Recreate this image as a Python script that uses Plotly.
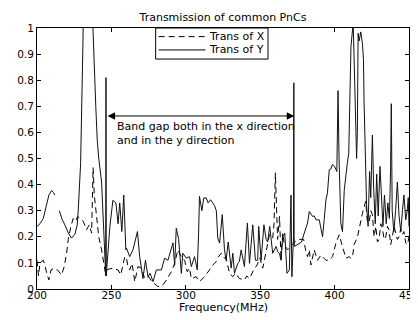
import plotly.graph_objects as go

# ---- data ----
freq_x = [200, 201, 202, 204.2, 205.4, 206.5, 208, 209.4, 211.6, 213.8, 216.5, 218.3, 219.9, 221, 222.8,
          224.3, 226, 227.3, 229, 231, 233.3, 235.1, 236.7, 237.7, 238.5, 240, 241.5, 243.4, 244.5, 246,
          247.5, 249, 251.1, 253, 254.5, 256.3, 257.8, 259, 260.1, 261, 262.3, 263.9, 265.7, 267.9, 270.2,
          272.4, 275, 277, 281.3, 283, 285.3, 288, 290.3, 292.5, 294.7, 297, 299.2, 301, 302.5, 303.7,
          307, 309.2, 312.6, 315.9, 318.2, 320.4, 321.5, 323.8, 325.5, 327.1, 329.4, 331.6, 333.5, 336,
          339.4, 341, 342.8, 345.6, 347.9, 349.8, 351.7, 353.5, 356.2, 358.4, 359.3, 360.2, 361, 361.7,
          363, 364, 365.1, 366.2, 368.4, 370, 373, 376.3, 379.2, 380.5, 381.8, 383, 384.1, 386.3, 388.5,
          390.8, 392.5, 394.2, 396.4, 397.5, 398.6, 400.9, 403.1, 404.9, 407.6, 409.8, 410.9, 412, 413.1,
          415.4, 416.5, 417.6, 418.7, 420.9, 422, 423.2, 424.3, 425.4, 426.5, 427.7, 428.8, 429.9, 431,
          432.1, 433.3, 434.4, 435.5, 436.6, 437.7, 438.8, 440, 441.1, 442.2, 443.3, 444.4, 445.5, 446.6,
          447.8, 449, 450]
trans_x = [0.11, 0.05, 0.10, 0.11, 0.09, 0.06, 0.035, 0.073, 0.08, 0.073, 0.054, 0.086, 0.137, 0.19, 0.24,
           0.27, 0.26, 0.278, 0.27, 0.26, 0.227, 0.246, 0.214, 0.465, 0.36, 0.278, 0.20, 0.15, 0.105, 0.06,
           0.075, 0.078, 0.08, 0.075, 0.073, 0.054, 0.10, 0.124, 0.12, 0.09, 0.073, 0.098, 0.028, 0.086, 0.08,
           0.04, 0.047, 0.03, 0.009, 0.012, 0.02, 0.047, 0.066, 0.098, 0.15, 0.124, 0.11, 0.066, 0.08, 0.04,
           0.047, 0.028, 0.047, 0.073, 0.092, 0.105, 0.12, 0.137, 0.12, 0.118, 0.06, 0.047, 0.06, 0.04,
           0.035, 0.05, 0.04, 0.073, 0.092, 0.12, 0.08, 0.13, 0.208, 0.195, 0.25, 0.445, 0.30, 0.19,
           0.278, 0.11, 0.214, 0.17, 0.15, 0.16, 0.18, 0.19, 0.19, 0.15, 0.124, 0.15, 0.092, 0.15, 0.11,
           0.13, 0.12, 0.11, 0.11, 0.118, 0.124, 0.176, 0.208, 0.17, 0.118, 0.124, 0.118, 0.12, 0.17,
           0.20, 0.233, 0.265, 0.29, 0.336, 0.26, 0.253, 0.30, 0.285, 0.20, 0.24, 0.18, 0.19, 0.25,
           0.233, 0.19, 0.20, 0.24, 0.227, 0.17, 0.20, 0.24, 0.214, 0.19, 0.20, 0.23, 0.208, 0.22,
           0.176, 0.17, 0.20]

freq_y = [200, 202, 204.2, 206, 208, 209.8, 211, 212, 213.5, 215, 217, 218.8, 221, 223.2, 225.5, 227, 227.7,
          229.3, 230.9, 232, 236.5, 237.6, 238.3, 239.5, 240.5, 241.5, 243.4, 246.2, 246.35, 246.5, 249,
          251, 253, 254.5, 255.6, 257, 258.3, 259.7, 260.1, 262.3, 264.5, 267.5, 269, 271.2, 272.9, 274.6,
          276, 278, 280.2, 283.6, 285.8, 288, 290.3, 291.4, 292.5, 293.6, 295.2, 297, 298, 300.3, 302.5,
          303.7, 305.9, 307.7, 308.6, 309.2, 310.8, 312.1, 313.7, 315, 316.6, 318.2, 319.3, 320.5, 321.5,
          322.7, 324.5, 326, 327.1, 328.5, 330.5, 331.6, 332.7, 334.9, 336, 337.2, 338.3, 339.4, 341.4,
          342.8, 345, 346.8, 348.3, 349, 350.6, 352.5, 354, 355, 356.4, 358.4, 360.7, 361.7, 362.9, 364,
          365.1, 366.5, 368, 369.6, 370.7, 371.3, 372.4, 372.6, 372.8, 373, 375.1, 377.8, 379.6, 381.8,
          383, 385.2, 386.3, 387.5, 389.7, 391.5, 391.9, 393, 394.2, 395.2, 396.4, 397.5, 398.6, 400,
          401.5, 402.3, 403, 404.2, 405.3, 406.5, 407.6, 408.5, 409.5, 411, 412.5, 413.1, 414, 414.8,
          415.3, 415.8, 416.5, 417.6, 418.7, 419.4, 419.8, 420.5, 421.5, 422.5, 423.5, 424.3, 425.4,
          426.3, 427.3, 428.3, 429.3, 430.5, 431.5, 432.5, 433.5, 434.7, 435.8, 436.8, 437.6, 438.1,
          438.7, 439.8, 441, 442.2, 443.3, 444.5, 445.6, 446.6, 447.8, 448.8, 449.5, 450]
trans_y = [0.24, 0.25, 0.27, 0.31, 0.36, 0.377, 0.37, 0.36, None, 0.30, 0.265, 0.245, 0.215, 0.195, 0.21, 0.245, 0.30,
           0.48, 0.95, 1.6, 1.6, 1.0, 0.86, 0.70, 0.57, 0.50, 0.41, 0.05, 0.81, 0.05, 0.24,
           0.34, 0.33, 0.25, 0.33, 0.22, 0.36, 0.15, 0.157, 0.124, 0.15, 0.22, 0.124, 0.04, 0.11, 0.047,
           0.06, 0.028, 0.073, 0.073, 0.118, 0.11, 0.15, 0.177, 0.09, 0.233, 0.19, 0.06, 0.137, 0.118, 0.124,
           0.086, 0.124, 0.073, 0.214, 0.355, 0.30, 0.349, 0.349, 0.33, 0.342, 0.33, 0.32, 0.30, 0.195,
           0.176, 0.285, 0.15, 0.11, 0.18, 0.08, 0.137, 0.06, 0.098, 0.105, 0.15, 0.124, 0.086, 0.253,
           0.098, 0.246, 0.11, 0.11, 0.24, 0.11, 0.246, 0.19, 0.18, 0.24, 0.137, 0.163, 0.143, 0.137, 0.11,
           0.20, 0.214, 0.06, 0.073, 0.36, 0.047, 0.20, 0.79, 0.20, 0.163, 0.17, 0.18, 0.214, 0.253,
           0.297, 0.278, 0.28, 0.265, 0.265, 0.208, 0.20, 0.265, 0.342, 0.368, 0.457, 0.46, 0.477, 0.47,
           0.45, 0.76, 0.50, 0.25, 0.22, 0.38, 0.445, 0.48, 0.52, 0.93, 1.02, 0.85, 0.63, 0.50,
           0.60, 0.98, 0.95, 0.985, 0.94, 0.88, 0.72, 0.52, 0.32, 0.24, 0.45, 0.35, 0.59,
           0.38, 0.25, 0.44, 0.28, 0.47, 0.32, 0.24, 0.36, 0.25, 0.33, 0.27, 0.45, 0.71,
           0.30, 0.22, 0.30, 0.41, 0.28, 0.22, 0.30, 0.36, 0.265, 0.30, 0.35, 0.24]

series_names = ["Trans of X", "Trans of Y"]
x_ticks = [200, 250, 300, 350, 400, 450]
y_ticks = [0, 0.1, 0.2, 0.3, 0.4, 0.5, 0.6, 0.7, 0.8, 0.9, 1]
gap_start, gap_end, arrow_level = 246.4, 372.9, 0.663

FONT = "DejaVu Sans"
DASH = "6px,4px"
PAGE_OFFSET = 8  # default body margin of the html page shifts the figure

fig = go.Figure()
fig.add_trace(go.Scatter(x=freq_x, y=trans_x, mode="lines", name=series_names[0],
                         line=dict(color="black", width=1, dash=DASH)))
fig.add_trace(go.Scatter(x=freq_y, y=trans_y, mode="lines", name=series_names[1], connectgaps=False,
                         line=dict(color="#111", width=1)))

axis_common = dict(showline=True, linecolor="black", linewidth=1, mirror="ticks", ticks="inside",
                   ticklen=4, tickcolor="black", tickwidth=1, showgrid=False, zeroline=False,
                   automargin=False, tickfont=dict(family=FONT, size=10.5, color="black"))
fig.update_xaxes(range=[200, 450], tickvals=x_ticks, ticklabelstandoff=-4, **axis_common)
fig.update_yaxes(range=[0, 1], tickvals=y_ticks, **axis_common)

# double-headed arrow marking the band gap
fig.add_annotation(x=gap_end, y=arrow_level, ax=gap_start, ay=arrow_level, axref="x", ayref="y",
                   xref="x", yref="y", text="", showarrow=True, arrowhead=2, startarrowhead=2,
                   arrowside="end+start", arrowwidth=1, arrowsize=1.5, startarrowsize=1.5,
                   arrowcolor="black", standoff=0, startstandoff=0)
fig.add_annotation(x=252.4, y=0.594, xref="x", yref="y", xanchor="left", yanchor="middle", align="left",
                   text="Band gap both in the x direction<br>and in the y direction", showarrow=False,
                   font=dict(family=FONT, size=11, color="black"))
fig.add_annotation(x=0.5, y=-0.069, xref="paper", yref="paper", xanchor="center", yanchor="middle",
                   text="Frequency(MHz)", showarrow=False, font=dict(family=FONT, size=11, color="black"))

# compact boxed legend (MATLAB style)
leg_x0, leg_x1, leg_y0, leg_y1 = 0.319, 0.621, 0.881, 1.0
fig.add_shape(type="rect", xref="paper", yref="paper", x0=leg_x0, x1=leg_x1, y0=leg_y0, y1=leg_y1,
              line=dict(color="black", width=1), fillcolor="white", layer="above")
entry_y = [0.967, 0.916]
entry_dash = [DASH, "solid"]
for name, ey, dsh in zip(series_names, entry_y, entry_dash):
    fig.add_shape(type="line", xref="paper", yref="paper", x0=0.327, x1=0.453, y0=ey, y1=ey,
                  line=dict(color="black", width=1, dash=dsh), layer="above")
    fig.add_annotation(x=0.456, y=ey, xref="paper", yref="paper", xanchor="left", yanchor="middle",
                       text=name, showarrow=False, font=dict(family=FONT, size=11, color="black"))

fig.update_layout(
    width=418, height=320,
    margin=dict(l=37 - PAGE_OFFSET, r=9 + PAGE_OFFSET, t=28 - PAGE_OFFSET, b=31 + PAGE_OFFSET,
                autoexpand=False),
    paper_bgcolor="white", plot_bgcolor="white",
    title=dict(text="Transmission of common PnCs", x=0.5, xref="paper", xanchor="center",
               y=1 - (17 - PAGE_OFFSET) / 320, yref="container", yanchor="middle",
               font=dict(family=FONT, size=11, color="black")),
    showlegend=False,
)

fig.write_html("out.html")
